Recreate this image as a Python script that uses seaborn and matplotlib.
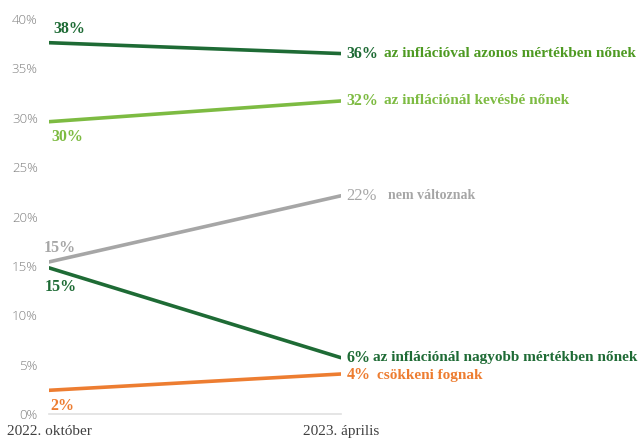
import matplotlib
matplotlib.use("Agg")
import matplotlib.pyplot as plt
import seaborn as sns
import pandas as pd

periods = ["2022. október", "2023. április"]
series = [
    "az inflációval azonos mértékben nőnek",
    "az inflációnál kevésbé nőnek",
    "nem változnak",
    "az inflációnál nagyobb mértékben nőnek",
    "csökkeni fognak",
]
start_vals = [37.6, 29.6, 15.4, 14.8, 2.4]
end_vals = [36.5, 31.7, 22.1, 5.7, 4.05]
start_labels = ["38%", "30%", "15%", "15%", "2%"]
end_labels = ["36%", "32%", "22%", "6%", "4%"]
yticks = [0, 5, 10, 15, 20, 25, 30, 35, 40]

line_colors = ["#1e6b35", "#7dbb42", "#a6a6a6", "#1e6b35", "#ed7d31"]
name_colors = ["#4e9a22", "#7dbb42", "#a6a6a6", "#1e6b35", "#ed7d31"]

rows = []
for s, a, b in zip(series, start_vals, end_vals):
    rows.append({"series": s, "x": 0, "value": a})
    rows.append({"series": s, "x": 1, "value": b})
df = pd.DataFrame(rows)

sns.set_theme(style="white")
plt.rcParams["font.family"] = ["Liberation Serif", "DejaVu Serif"]

fig = plt.figure(figsize=(6.38, 4.46), dpi=100)
ax = fig.add_axes([49 / 638, 32 / 446, (341 - 49) / 638, (414 - 19) / 446])

sns.lineplot(data=df, x="x", y="value", hue="series", hue_order=series,
             palette=line_colors, linewidth=2.6, legend=False, ax=ax)

ax.set_xlim(0, 1)
ax.set_ylim(0, 40)
ax.set_yticks(yticks)
ax.set_yticklabels([f"{t}%" for t in yticks], color="#808080", fontsize=9.5,
                   family=["Open Sans", "DejaVu Sans"], fontweight="light")
ax.set_xticks([0, 1])
ax.set_xticklabels(periods, color="#404040", fontsize=11)
ax.tick_params(axis="y", length=0, pad=8)
ax.tick_params(axis="x", length=0, pad=8)
ax.set_xlabel("")
ax.set_ylabel("")
for side in ["top", "right", "left"]:
    ax.spines[side].set_visible(False)
ax.spines["bottom"].set_color("#e0e0e0")
ax.spines["bottom"].set_linewidth(1.2)

# start labels: offsets in points (above / below)
start_offsets = [(3, 10), (2, -11), (-4, 10), (-3, -14), (1, -11)]
for val, lab, col, (dx, dy) in zip(start_vals, start_labels, line_colors, start_offsets):
    ax.annotate(lab, (0, val), xytext=(dx, dy), textcoords="offset points",
                ha="left", va="center", color=col, fontsize=11.5,
                fontweight="bold", annotation_clip=False)

# end labels
pct_sizes = [11.5, 11.5, 12, 11.5, 11.5]
name_sizes = [11, 11, 10, 11, 11]
name_dx = [27, 27, 30, 19, 22]
end_dy = [0, 0, 0, 0, -1]
pct_weight = ["bold", "bold", "normal", "bold", "bold"]
for i, (val, lab) in enumerate(zip(end_vals, end_labels)):
    ax.annotate(lab, (1, val), xytext=(4, end_dy[i]), textcoords="offset points",
                ha="left", va="center", color=line_colors[i], fontsize=pct_sizes[i],
                fontweight=pct_weight[i], annotation_clip=False)
    ax.annotate(series[i], (1, val), xytext=(4 + name_dx[i], end_dy[i]),
                textcoords="offset points", ha="left", va="center",
                color=name_colors[i], fontsize=name_sizes[i], fontweight="bold",
                annotation_clip=False)

fig.savefig("out.png", dpi=100)
